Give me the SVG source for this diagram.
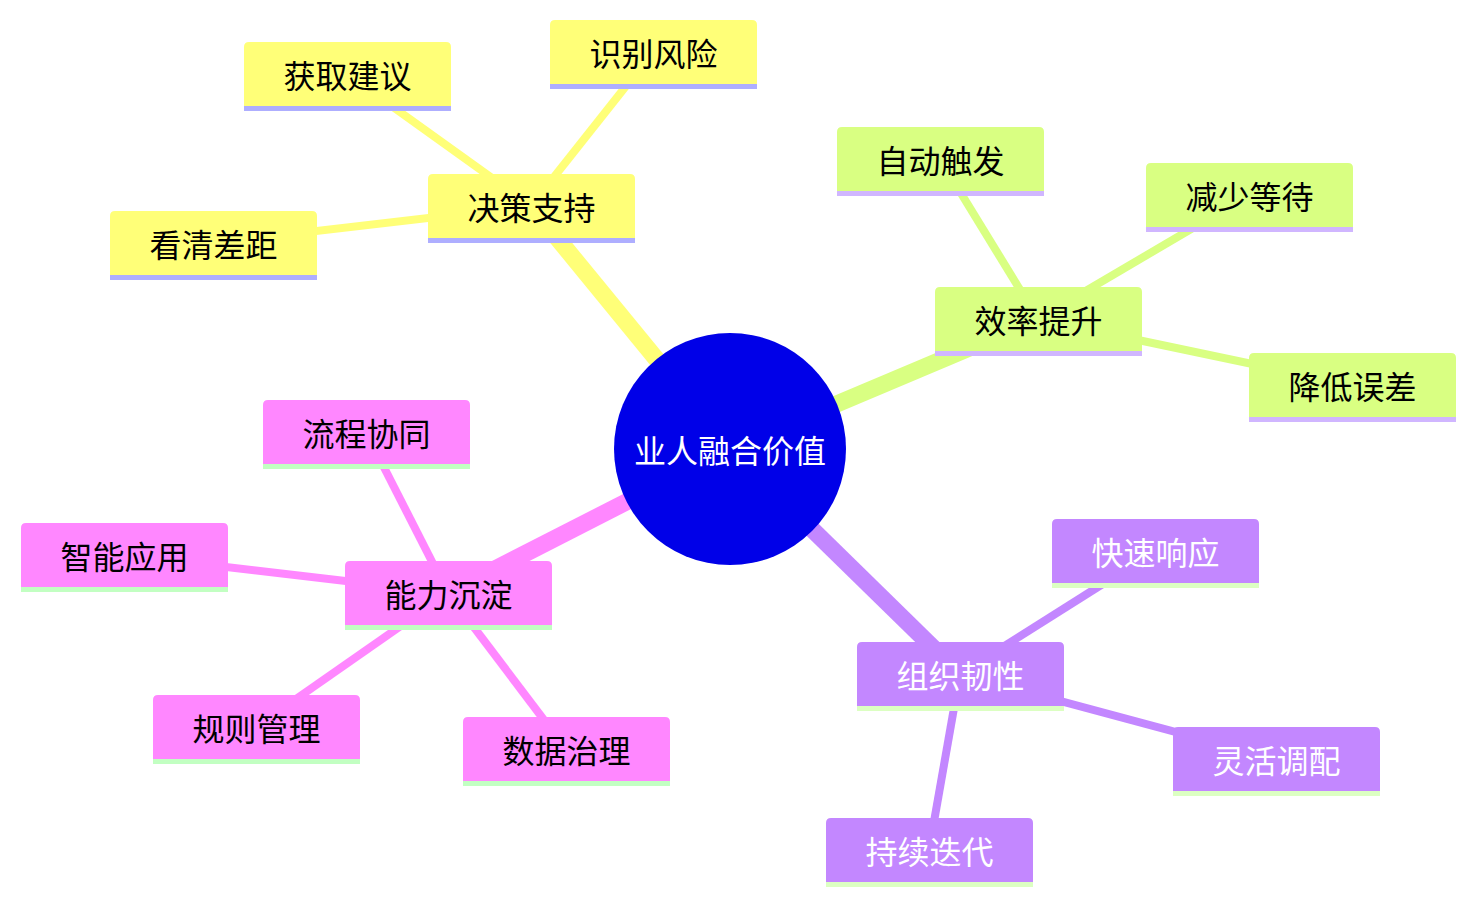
<svg xmlns="http://www.w3.org/2000/svg" width="1476" height="905" viewBox="0 0 1476 905">
<style>
text{font-family:"Noto Sans CJK SC","Noto Sans",sans-serif;font-size:32px;text-anchor:middle;dominant-baseline:central}
.s0 use{fill:#ffff78}.s0 rect{fill:#aeaeff}.s0 text{fill:#000}
.s1 use{fill:#d9ff82}.s1 rect{fill:#d0b6ff}.s1 text{fill:#000}
.s2 use{fill:#ff87ff}.s2 rect{fill:#c2ffc2}.s2 text{fill:#000}
.s3 use{fill:#c387ff}.s3 rect{fill:#dcffc2}.s3 text{fill:#fff}
.e{fill:none;stroke-linecap:butt}
.m{stroke-width:17}.l{stroke-width:8}
</style>
<defs>
<path id="shape" d="M0 64 V5 Q0 0 5 0 H202 Q207 0 207 5 V64 Z"/>
</defs>
<g id="connectors">
<line class="e m" x1="730" y1="449" x2="531" y2="206" stroke="#ffff78"/>
<line class="e l" x1="531" y1="206" x2="347" y2="74" stroke="#ffff78"/>
<line class="e l" x1="531" y1="206" x2="653" y2="52" stroke="#ffff78"/>
<line class="e l" x1="531" y1="206" x2="213" y2="243" stroke="#ffff78"/>
<line class="e m" x1="730" y1="449" x2="1038" y2="319" stroke="#d9ff82"/>
<line class="e l" x1="1038" y1="319" x2="940" y2="159" stroke="#d9ff82"/>
<line class="e l" x1="1038" y1="319" x2="1249" y2="195" stroke="#d9ff82"/>
<line class="e l" x1="1038" y1="319" x2="1352" y2="385" stroke="#d9ff82"/>
<line class="e m" x1="730" y1="449" x2="448" y2="593" stroke="#ff87ff"/>
<line class="e l" x1="448" y1="593" x2="366" y2="432" stroke="#ff87ff"/>
<line class="e l" x1="448" y1="593" x2="124" y2="555" stroke="#ff87ff"/>
<line class="e l" x1="448" y1="593" x2="256" y2="727" stroke="#ff87ff"/>
<line class="e l" x1="448" y1="593" x2="566" y2="749" stroke="#ff87ff"/>
<line class="e m" x1="730" y1="449" x2="960" y2="674" stroke="#c387ff"/>
<line class="e l" x1="960" y1="674" x2="1155" y2="551" stroke="#c387ff"/>
<line class="e l" x1="960" y1="674" x2="1276" y2="759" stroke="#c387ff"/>
<line class="e l" x1="960" y1="674" x2="929" y2="850" stroke="#c387ff"/>
</g>
<g id="root">
<circle cx="730" cy="449" r="116" fill="#0000e8"/>
<text x="730" y="449" fill="#fff">业人融合价值</text>
</g>
<g id="n-juece" class="s0" transform="translate(428,174)"><use href="#shape"/><rect x="0" y="64" width="207" height="5"/><text x="103.5" y="32">决策支持</text></g>
<g id="n-huoqu" class="s0" transform="translate(244,42)"><use href="#shape"/><rect x="0" y="64" width="207" height="5"/><text x="103.5" y="32">获取建议</text></g>
<g id="n-shibie" class="s0" transform="translate(550,20)"><use href="#shape"/><rect x="0" y="64" width="207" height="5"/><text x="103.5" y="32">识别风险</text></g>
<g id="n-kanqing" class="s0" transform="translate(110,211)"><use href="#shape"/><rect x="0" y="64" width="207" height="5"/><text x="103.5" y="32">看清差距</text></g>
<g id="n-xiaolv" class="s1" transform="translate(935,287)"><use href="#shape"/><rect x="0" y="64" width="207" height="5"/><text x="103.5" y="32">效率提升</text></g>
<g id="n-zidong" class="s1" transform="translate(837,127)"><use href="#shape"/><rect x="0" y="64" width="207" height="5"/><text x="103.5" y="32">自动触发</text></g>
<g id="n-jianshao" class="s1" transform="translate(1146,163)"><use href="#shape"/><rect x="0" y="64" width="207" height="5"/><text x="103.5" y="32">减少等待</text></g>
<g id="n-jiangdi" class="s1" transform="translate(1249,353)"><use href="#shape"/><rect x="0" y="64" width="207" height="5"/><text x="103.5" y="32">降低误差</text></g>
<g id="n-nengli" class="s2" transform="translate(345,561)"><use href="#shape"/><rect x="0" y="64" width="207" height="5"/><text x="103.5" y="32">能力沉淀</text></g>
<g id="n-liucheng" class="s2" transform="translate(263,400)"><use href="#shape"/><rect x="0" y="64" width="207" height="5"/><text x="103.5" y="32">流程协同</text></g>
<g id="n-zhineng" class="s2" transform="translate(21,523)"><use href="#shape"/><rect x="0" y="64" width="207" height="5"/><text x="103.5" y="32">智能应用</text></g>
<g id="n-guize" class="s2" transform="translate(153,695)"><use href="#shape"/><rect x="0" y="64" width="207" height="5"/><text x="103.5" y="32">规则管理</text></g>
<g id="n-shuju" class="s2" transform="translate(463,717)"><use href="#shape"/><rect x="0" y="64" width="207" height="5"/><text x="103.5" y="32">数据治理</text></g>
<g id="n-zuzhi" class="s3" transform="translate(857,642)"><use href="#shape"/><rect x="0" y="64" width="207" height="5"/><text x="103.5" y="32">组织韧性</text></g>
<g id="n-kuaisu" class="s3" transform="translate(1052,519)"><use href="#shape"/><rect x="0" y="64" width="207" height="5"/><text x="103.5" y="32">快速响应</text></g>
<g id="n-linghuo" class="s3" transform="translate(1173,727)"><use href="#shape"/><rect x="0" y="64" width="207" height="5"/><text x="103.5" y="32">灵活调配</text></g>
<g id="n-chixu" class="s3" transform="translate(826,818)"><use href="#shape"/><rect x="0" y="64" width="207" height="5"/><text x="103.5" y="32">持续迭代</text></g>
</svg>
